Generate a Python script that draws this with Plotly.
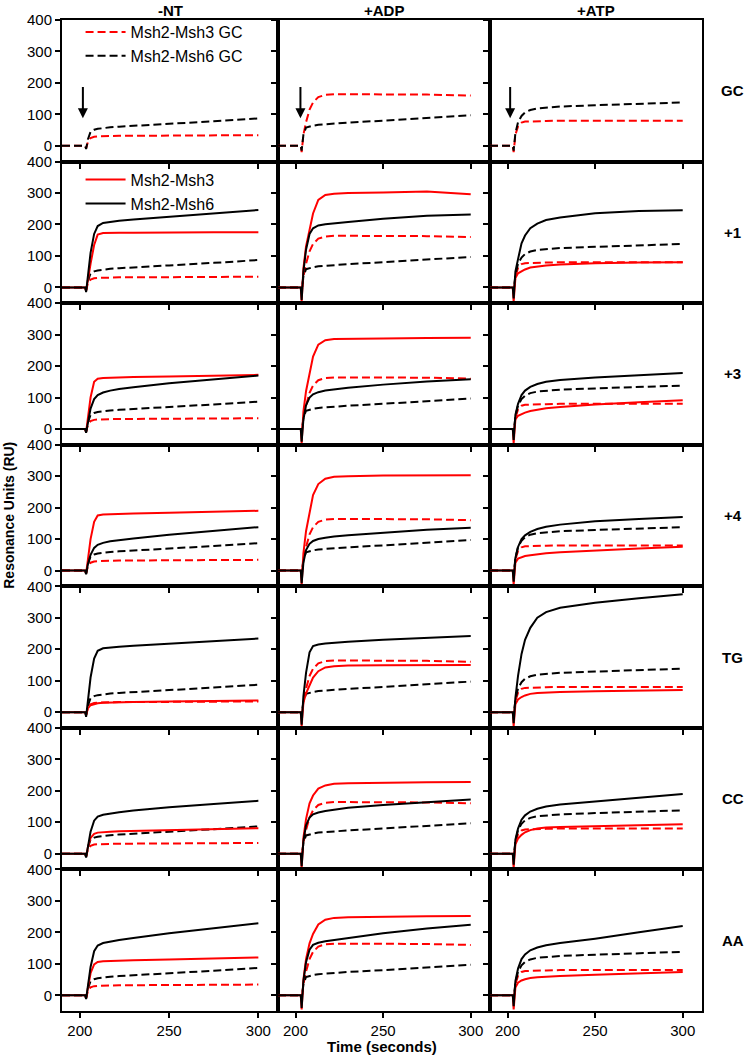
import plotly.graph_objects as go
from plotly.subplots import make_subplots

# ---------------- data ----------------
TIME = [190, 203, 203.5, 204.5, 206, 208, 210, 213, 217, 222, 230, 250, 275, 300]
CONDITIONS = ["-NT", "+ADP", "+ATP"]
SUBSTRATES = ["GC", "+1", "+3", "+4", "TG", "CC", "AA"]
TIME_TICKS = [200, 250, 300]
RU_TICKS = [0, 100, 200, 300, 400]

# GC reference curves (dashed), one pair per nucleotide condition
NT_GC_MSH3 = [0, 0, -8, 12, 25, 29, 30, 31, 31, 32, 32, 33, 34, 34]
NT_GC_MSH6 = [0, 0, -10, 20, 45, 51, 54, 57, 59, 61, 63, 70, 78, 87]
ADP_GC_MSH3 = [0, 0, -20, 35, 75, 115, 138, 155, 162, 164, 164, 164, 163, 160]
ADP_GC_MSH6 = [0, 0, -15, 35, 58, 62, 64, 67, 69, 71, 74, 80, 89, 97]
ATP_GC_MSH3 = [0, 0, -20, 35, 62, 74, 77, 78, 79, 79, 80, 80, 80, 80]
ATP_GC_MSH6 = [0, 0, -15, 40, 75, 95, 106, 114, 119, 122, 125, 129, 134, 138]

# -NT
NT_P1_MSH3 = [0, 0, -12, 25, 75, 135, 168, 173, 174, 174, 174, 175, 175, 175]
NT_P1_MSH6 = [0, 0, -15, 40, 110, 170, 195, 205, 209, 212, 216, 225, 236, 246]
NT_P3_MSH3 = [0, 0, -10, 35, 100, 150, 160, 162, 163, 164, 165, 167, 170, 172]
NT_P3_MSH6 = [0, 0, -12, 25, 65, 95, 108, 116, 122, 127, 133, 145, 158, 170]
NT_P4_MSH3 = [0, 0, -10, 35, 100, 155, 175, 178, 179, 180, 181, 184, 187, 190]
NT_P4_MSH6 = [0, 0, -12, 20, 50, 72, 82, 88, 93, 97, 102, 114, 126, 138]
NT_TG_MSH3 = [0, 0, -10, 12, 22, 26, 28, 30, 31, 32, 32, 34, 36, 37]
NT_TG_MSH6 = [0, 0, -15, 40, 110, 170, 195, 203, 206, 208, 211, 218, 226, 234]
NT_CC_MSH3 = [0, 0, -10, 20, 50, 63, 67, 69, 70, 71, 72, 75, 78, 81]
NT_CC_MSH6 = [0, 0, -12, 25, 70, 105, 118, 124, 128, 132, 137, 148, 158, 168]
NT_AA_MSH3 = [0, 0, -10, 25, 70, 98, 106, 108, 109, 110, 111, 114, 117, 120]
NT_AA_MSH6 = [0, 0, -12, 30, 90, 140, 158, 166, 171, 176, 182, 197, 213, 229]

# +ADP
ADP_P1_MSH3 = [0, 0, -45, 60, 130, 185, 235, 278, 294, 298, 300, 302, 305, 296]
ADP_P1_MSH6 = [0, 0, -40, 50, 120, 170, 188, 197, 201, 204, 208, 218, 228, 232]
ADP_P3_MSH3 = [0, 0, -45, 55, 120, 178, 230, 268, 282, 286, 287, 288, 289, 290]
ADP_P3_MSH6 = [0, 0, -40, 30, 75, 100, 110, 117, 122, 126, 131, 141, 151, 158]
ADP_P4_MSH3 = [0, 0, -45, 55, 125, 185, 240, 275, 292, 298, 300, 302, 303, 303]
ADP_P4_MSH6 = [0, 0, -40, 25, 65, 85, 94, 100, 104, 108, 112, 121, 130, 136]
ADP_TG_MSH3 = [0, 0, -45, 30, 60, 88, 110, 130, 142, 146, 148, 149, 150, 150]
ADP_TG_MSH6 = [0, 0, -40, 50, 125, 190, 210, 215, 218, 221, 224, 230, 237, 242]
ADP_CC_MSH3 = [0, 0, -45, 50, 110, 160, 185, 207, 217, 222, 224, 226, 227, 228]
ADP_CC_MSH6 = [0, 0, -40, 40, 90, 115, 125, 131, 136, 140, 146, 155, 164, 172]
ADP_AA_MSH3 = [0, 0, -45, 50, 115, 165, 195, 225, 240, 246, 248, 250, 251, 252]
ADP_AA_MSH6 = [0, 0, -40, 45, 105, 145, 160, 167, 172, 176, 182, 197, 212, 224]

# +ATP
ATP_P1_MSH3 = [0, 0, -45, 30, 45, 52, 57, 63, 67, 70, 73, 77, 79, 80]
ATP_P1_MSH6 = [0, 0, -35, 50, 90, 140, 165, 188, 203, 214, 222, 236, 243, 245]
ATP_P3_MSH3 = [0, 0, -45, 30, 42, 48, 52, 57, 62, 66, 70, 78, 85, 91]
ATP_P3_MSH6 = [0, 0, -35, 45, 80, 108, 122, 134, 143, 150, 156, 164, 171, 178]
ATP_P4_MSH3 = [0, 0, -45, 25, 38, 43, 46, 49, 52, 55, 58, 64, 70, 76]
ATP_P4_MSH6 = [0, 0, -35, 40, 75, 100, 112, 123, 132, 139, 146, 157, 164, 170]
ATP_TG_MSH3 = [0, 0, -45, 25, 40, 48, 53, 58, 61, 63, 64, 66, 68, 70]
ATP_TG_MSH6 = [0, 0, -35, 45, 115, 185, 230, 268, 300, 318, 332, 348, 362, 375]
ATP_CC_MSH3 = [0, 0, -45, 30, 48, 60, 68, 75, 80, 83, 85, 88, 91, 94]
ATP_CC_MSH6 = [0, 0, -35, 45, 80, 108, 122, 134, 143, 150, 156, 166, 178, 190]
ATP_AA_MSH3 = [0, 0, -45, 25, 40, 47, 51, 55, 57, 59, 61, 65, 70, 74]
ATP_AA_MSH6 = [0, 0, -35, 45, 85, 115, 130, 143, 152, 159, 166, 180, 200, 220]

# arrow marking injection start in GC row (time per column)
ARROW_TIME = [201.7, 202.8, 201.5]

# ---------------- assemble ----------------
GC_REF = [(NT_GC_MSH3, NT_GC_MSH6), (ADP_GC_MSH3, ADP_GC_MSH6), (ATP_GC_MSH3, ATP_GC_MSH6)]
TEST = [
    [(NT_P1_MSH3, NT_P1_MSH6), (ADP_P1_MSH3, ADP_P1_MSH6), (ATP_P1_MSH3, ATP_P1_MSH6)],
    [(NT_P3_MSH3, NT_P3_MSH6), (ADP_P3_MSH3, ADP_P3_MSH6), (ATP_P3_MSH3, ATP_P3_MSH6)],
    [(NT_P4_MSH3, NT_P4_MSH6), (ADP_P4_MSH3, ADP_P4_MSH6), (ATP_P4_MSH3, ATP_P4_MSH6)],
    [(NT_TG_MSH3, NT_TG_MSH6), (ADP_TG_MSH3, ADP_TG_MSH6), (ATP_TG_MSH3, ATP_TG_MSH6)],
    [(NT_CC_MSH3, NT_CC_MSH6), (ADP_CC_MSH3, ADP_CC_MSH6), (ATP_CC_MSH3, ATP_CC_MSH6)],
    [(NT_AA_MSH3, NT_AA_MSH6), (ADP_AA_MSH3, ADP_AA_MSH6), (ATP_AA_MSH3, ATP_AA_MSH6)],
]

RED = "#ff0000"
BLACK = "#000000"
FONT = "Liberation Sans, Arial, sans-serif"
DASH = "8px,4px"
LW = 2

fig = make_subplots(rows=7, cols=3, horizontal_spacing=0, vertical_spacing=0,
                    column_widths=[0.3375, 0.33125, 0.33125])

for r in range(7):
    for c in range(3):
        m3gc, m6gc = GC_REF[c]
        first = (r == 0 and c == 0)
        fig.add_trace(go.Scatter(x=TIME, y=m3gc, mode="lines", name="Msh2-Msh3 GC",
                                 line=dict(color=RED, width=LW, dash=DASH),
                                 showlegend=first, legend="legend"), row=r + 1, col=c + 1)
        fig.add_trace(go.Scatter(x=TIME, y=m6gc, mode="lines", name="Msh2-Msh6 GC",
                                 line=dict(color=BLACK, width=LW, dash=DASH),
                                 showlegend=first, legend="legend"), row=r + 1, col=c + 1)
        if r > 0:
            m3, m6 = TEST[r - 1][c]
            leg = (r == 1 and c == 0)
            fig.add_trace(go.Scatter(x=TIME, y=m3, mode="lines", name="Msh2-Msh3",
                                     line=dict(color=RED, width=LW),
                                     showlegend=leg, legend="legend2"), row=r + 1, col=c + 1)
            fig.add_trace(go.Scatter(x=TIME, y=m6, mode="lines", name="Msh2-Msh6",
                                     line=dict(color=BLACK, width=LW),
                                     showlegend=leg, legend="legend2"), row=r + 1, col=c + 1)

axis_common = dict(showline=True, mirror=True, linecolor="black", linewidth=2,
                   ticks="outside", ticklen=5, tickwidth=1.5, tickcolor="black",
                   showgrid=False, zeroline=False,
                   tickfont=dict(family=FONT, size=15, color="black"))
fig.update_xaxes(range=[190, 311], tickvals=TIME_TICKS, showticklabels=False, **axis_common)
fig.update_xaxes(showticklabels=True, row=7)
fig.update_yaxes(range=[-50, 400], tickvals=RU_TICKS, showticklabels=False, **axis_common)
fig.update_yaxes(showticklabels=True, col=1)

annotations = []
# column titles
for c, name in enumerate(CONDITIONS):
    xr = "x" if c == 0 else f"x{c + 1}"
    annotations.append(dict(text=f"<b>{name}</b>", xref=f"{xr} domain", x=0.5,
                            yref="paper", y=1.01, yanchor="middle", showarrow=False,
                            font=dict(family=FONT, size=15, color="black")))
# row labels
for r, name in enumerate(SUBSTRATES):
    n = r * 3 + 1
    yr = "y" if n == 1 else f"y{n}"
    annotations.append(dict(text=f"<b>{name}</b>", xref="paper", x=1.048, xanchor="center",
                            yref=f"{yr} domain", y=0.5, yanchor="middle", showarrow=False,
                            font=dict(family=FONT, size=15, color="black")))
# arrows in GC row
for c in range(3):
    xr = "x" if c == 0 else f"x{c + 1}"
    yr = "y" if c == 0 else f"y{c + 1}"
    annotations.append(dict(text="", xref=xr, yref=yr, axref=xr, ayref=yr,
                            x=ARROW_TIME[c], y=88, ax=ARROW_TIME[c], ay=192,
                            showarrow=True, arrowhead=2, arrowsize=1, arrowwidth=2,
                            arrowcolor="black"))
# axis titles
annotations.append(dict(text="<b>Resonance Units (RU)</b>", xref="paper", x=-0.084,
                        yref="paper", y=0.5, textangle=-90, showarrow=False,
                        xanchor="center", yanchor="middle",
                        font=dict(family=FONT, size=14, color="black")))
annotations.append(dict(text="<b>Time (seconds)</b>", xref="paper", x=0.5,
                        yref="paper", y=-0.0363, showarrow=False,
                        xanchor="center", yanchor="middle",
                        font=dict(family=FONT, size=15, color="black")))

fig.update_layout(
    width=745, height=1057,
    margin=dict(l=62, r=43, t=20, b=46, autoexpand=False),
    paper_bgcolor="white", plot_bgcolor="white",
    annotations=annotations,
    legend=dict(x=0.029, y=1.005, xanchor="left", yanchor="top", bgcolor="rgba(0,0,0,0)",
                font=dict(family=FONT, size=16, color="black"), tracegroupgap=0,
                itemwidth=40),
    legend2=dict(x=0.029, y=0.856, xanchor="left", yanchor="top", bgcolor="rgba(0,0,0,0)",
                 font=dict(family=FONT, size=16, color="black"), tracegroupgap=0,
                 itemwidth=40),
)

# remove the browser's default body margin so the figure sits at the page origin
fig.write_html("out.html", config={"displayModeBar": False},
               post_script="document.body.style.margin='0';")
